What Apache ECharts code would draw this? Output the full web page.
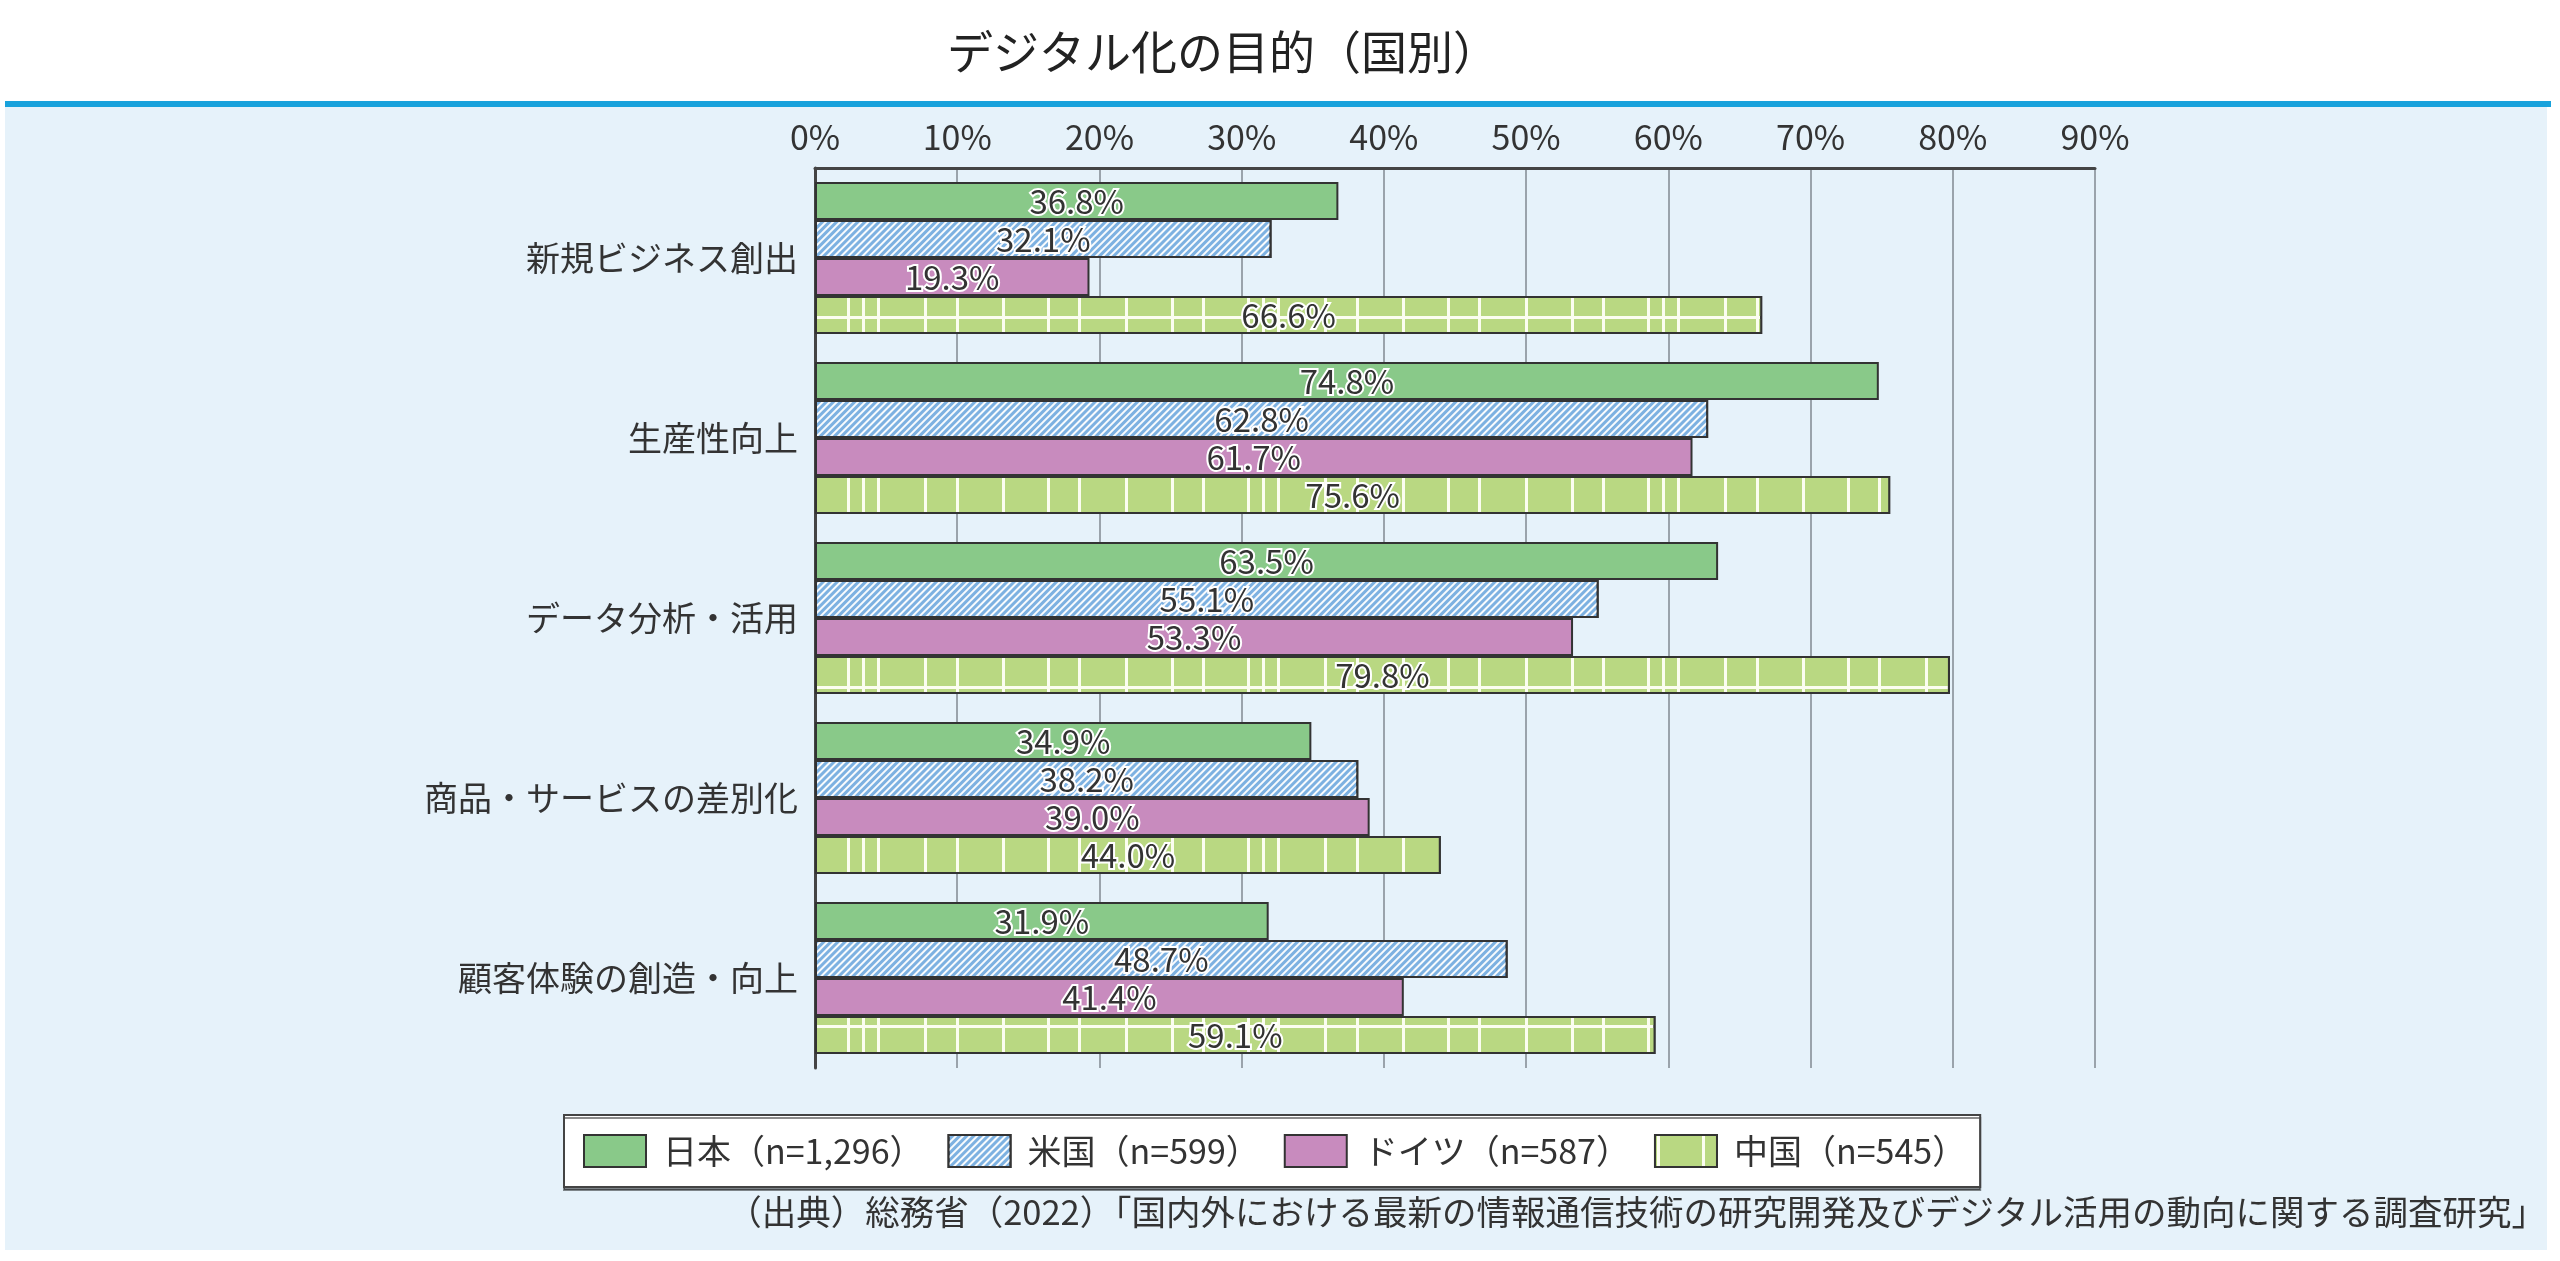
<!DOCTYPE html>
<html lang="ja">
<head>
<meta charset="UTF-8">
<title>デジタル化の目的（国別）</title>
<style>
    html, body { margin: 0; padding: 0; background: #fff; }
    #panelLine { position: absolute; left: 5px; top: 101px; width: 2546px; height: 6px; background: #18a2dc; }
    #panel { position: absolute; left: 5px; top: 107px; width: 2542px; height: 1143px; background: #e6f2fa; }
    #chartBox { position: absolute; left: 0; top: 0; width: 2560px; height: 1261px; }
</style>
</head>
<body>
<div id="panelLine"></div>
<div id="panel"></div>
<div id="chartBox"></div>
<script type="text/javascript" src="https://cdn.jsdelivr.net/npm/echarts@6/dist/echarts.min.js"></script>
<script type="text/javascript">
    // データ
    var categories = ['新規ビジネス創出', '生産性向上', 'データ分析・活用', '商品・サービスの差別化', '顧客体験の創造・向上'];
    var seriesNames = ['日本（n=1,296）', '米国（n=599）', 'ドイツ（n=587）', '中国（n=545）'];
    var japan = [36.8, 74.8, 63.5, 34.9, 31.9];
    var usa = [32.1, 62.8, 55.1, 38.2, 48.7];
    var germany = [19.3, 61.7, 53.3, 39.0, 41.4];
    var china = [66.6, 75.6, 79.8, 44.0, 59.1];
    var axisMin = 0, axisMax = 90, axisStep = 10;

    var font = '"Noto Sans CJK JP", "Noto Sans", sans-serif';
    var textColor = '#333';

    // 米国: 白い斜線
    var stripeDecal = {
        symbol: 'rect', symbolSize: 1, symbolKeepAspect: false,
        color: 'rgba(255,255,255,0.95)',
        dashArrayX: [2, 3], dashArrayY: [1, 0],
        rotation: Math.PI / 4
    };
    // 中国: 白い格子線（不規則）
    var gridDecal = {
        symbol: 'rect', symbolSize: 1, symbolKeepAspect: false,
        color: '#b9d882',
        dashArrayX: [2, 3, 42, 3, 12, 3, 12, 3, 44, 3, 29, 3, 43, 3, 42, 3, 28, 3, 44, 3, 43, 3, 26, 0],
        dashArrayY: [316, 3, 367, 3, 336, 3, 72, 0],
        maxTileWidth: 512, maxTileHeight: 1261
    };

    function barSeries(name, data, color, decal) {
        return {
            name: name,
            type: 'bar',
            data: data,
            barGap: '0%',
            barCategoryGap: '15.5%',
            itemStyle: { color: color, borderColor: '#333', borderWidth: 2, decal: decal },
            label: {
                show: true,
                position: 'inside',
                formatter: function (p) { return p.value.toFixed(1) + '%'; },
                color: textColor,
                fontFamily: font,
                fontSize: 33,
                textBorderColor: '#fff',
                textBorderWidth: 4
            }
        };
    }

    var myChart = echarts.init(document.getElementById('chartBox'));
    myChart.setOption({
        backgroundColor: 'transparent',
        textStyle: { fontFamily: font },
        title: [{
            text: 'デジタル化の目的（国別）',
            left: 947, top: 29, padding: 0,
            textStyle: { fontSize: 46, fontWeight: 'normal', color: '#222', fontFamily: font }
        }, {
            text: '（出典）総務省（2022）「国内外における最新の情報通信技術の研究開発及びデジタル活用の動向に関する調査研究」',
            right: 14, top: 1195, padding: 0,
            textStyle: { fontSize: 34.5, fontWeight: 'normal', color: textColor, fontFamily: font }
        }],
        legend: {
            data: seriesNames,
            left: 564, top: 1115,
            padding: [19, 14, 19, 19],
            itemWidth: 62, itemHeight: 32, itemGap: 24,
            icon: 'rect',
            backgroundColor: '#fff',
            borderColor: '#444', borderWidth: 2,
            shadowColor: 'rgba(0,0,0,0.45)', shadowOffsetY: 3, shadowBlur: 0,
            textStyle: { fontSize: 34, color: textColor, fontFamily: font, padding: [0, 0, 0, 12] }
        },
        grid: { left: 815, right: 465, top: 168, bottom: 193, containLabel: false },
        xAxis: {
            type: 'value',
            position: 'top',
            min: axisMin, max: axisMax, interval: axisStep,
            axisLine: { show: true, lineStyle: { color: '#444', width: 3 } },
            axisTick: { show: false },
            axisLabel: { formatter: '{value}%', fontSize: 34, color: textColor, margin: 14, fontFamily: font },
            splitLine: { show: true, lineStyle: { color: '#9aa3ab', width: 2 } }
        },
        yAxis: {
            type: 'category',
            data: categories,
            inverse: true,
            axisLine: { show: true, lineStyle: { color: '#444', width: 3 } },
            axisTick: { show: false },
            axisLabel: { fontSize: 34, color: textColor, margin: 17, fontFamily: font }
        },
        series: [
            barSeries(seriesNames[0], japan, '#89c989'),
            barSeries(seriesNames[1], usa, '#7db1e1', stripeDecal),
            barSeries(seriesNames[2], germany, '#c88bbe'),
            barSeries(seriesNames[3], china, '#fbfdf0', gridDecal)
        ]
    });
</script>
</body>
</html>
